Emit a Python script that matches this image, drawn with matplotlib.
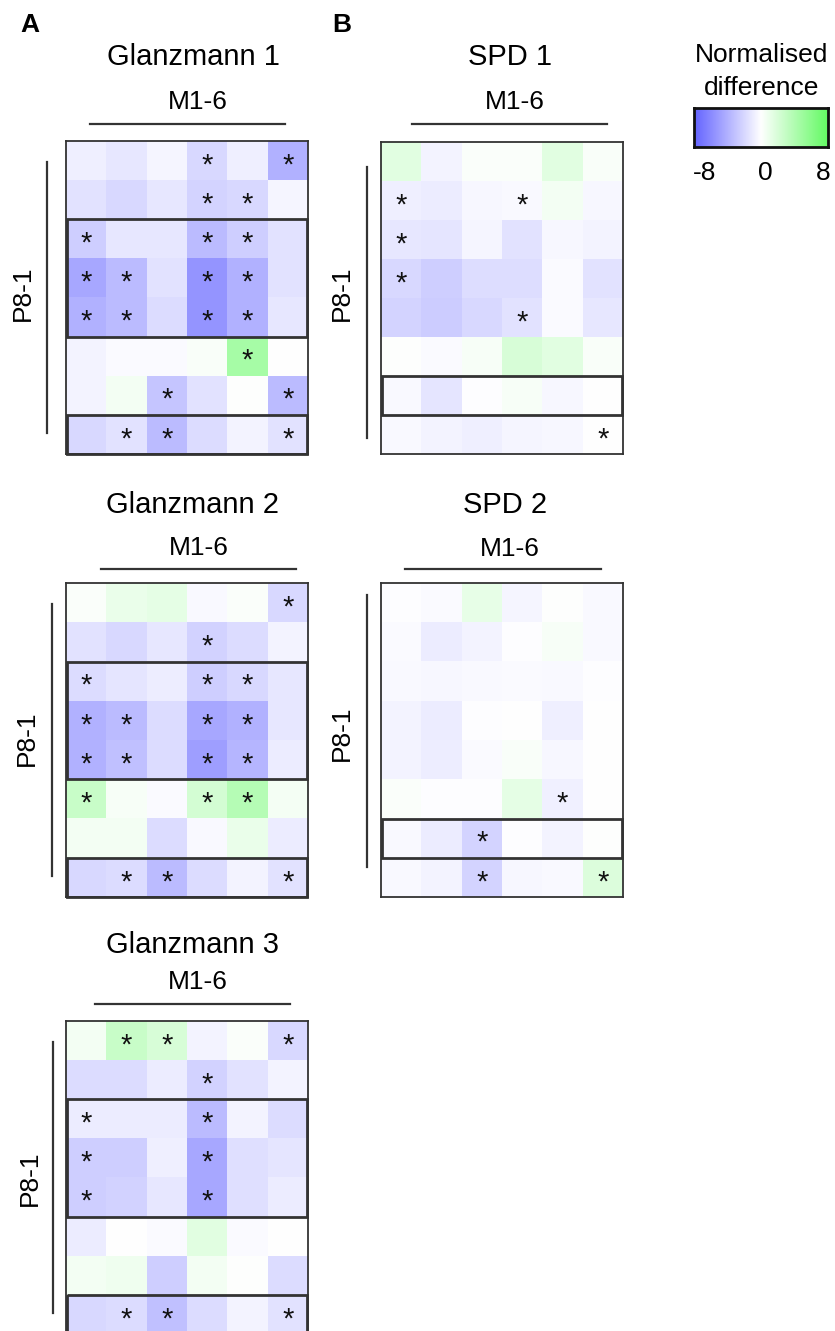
import numpy as np
import matplotlib
matplotlib.use("Agg")
import matplotlib.pyplot as plt
from matplotlib.colors import LinearSegmentedColormap
from matplotlib.patches import Rectangle

plt.rcParams['font.family'] = ['Liberation Sans', 'DejaVu Sans']

# heatmap values, rows P8..P1, columns M1..M6
glanz1 = [[-0.8, -1.2, -0.5, -2.0, -0.8, -4.0],
          [-1.5, -2.0, -1.2, -2.2, -2.0, -0.5],
          [-2.5, -1.2, -1.2, -3.5, -2.5, -1.5],
          [-4.5, -3.5, -1.5, -5.5, -4.0, -1.5],
          [-4.0, -3.5, -1.8, -5.5, -4.0, -1.2],
          [-0.6, -0.2, -0.2, 0.3, 4.5, 0.0],
          [-0.6, 0.6, -3.0, -1.5, 0.1, -3.5],
          [-2.0, -1.5, -3.5, -1.8, -0.6, -1.5]]
glanz1_sig = [(0, 3), (0, 5), (1, 3), (1, 4), (2, 0), (2, 3), (2, 4),
              (3, 0), (3, 1), (3, 3), (3, 4), (4, 0), (4, 1), (4, 3), (4, 4),
              (5, 4), (6, 2), (6, 5), (7, 1), (7, 2), (7, 5)]

glanz2 = [[0.2, 1.0, 1.3, -0.3, 0.2, -2.0],
          [-1.5, -2.0, -1.2, -2.3, -1.8, -0.6],
          [-1.8, -1.3, -0.9, -2.5, -2.0, -1.2],
          [-4.0, -3.5, -1.8, -4.5, -4.0, -1.2],
          [-4.0, -3.2, -1.8, -5.0, -3.8, -1.0],
          [2.8, 0.4, -0.2, 2.2, 3.8, 0.5],
          [0.6, 0.6, -1.8, -0.3, 1.0, -1.0],
          [-2.0, -1.8, -3.5, -1.8, -0.6, -1.5]]
glanz2_sig = [(0, 5), (1, 3), (2, 0), (2, 3), (2, 4),
              (3, 0), (3, 1), (3, 3), (3, 4), (4, 0), (4, 1), (4, 3), (4, 4),
              (5, 0), (5, 3), (5, 4), (7, 1), (7, 2), (7, 5)]

glanz3 = [[0.6, 2.8, 2.0, -0.6, 0.2, -2.0],
          [-1.8, -1.8, -1.0, -2.3, -1.5, -0.6],
          [-1.0, -1.0, -1.0, -3.5, -0.6, -1.8],
          [-2.5, -2.5, -0.8, -4.5, -1.6, -1.3],
          [-2.5, -2.3, -1.2, -4.5, -1.6, -1.0],
          [-1.0, 0.0, -0.2, 1.5, -0.2, 0.0],
          [0.6, 0.8, -2.5, 0.6, 0.1, -1.8],
          [-2.0, -1.8, -3.2, -1.8, -0.6, -1.5]]
glanz3_sig = [(0, 1), (0, 2), (0, 5), (1, 3), (2, 0), (2, 3),
              (3, 0), (3, 3), (4, 0), (4, 3), (7, 1), (7, 2), (7, 5)]

spd1 = [[1.5, -0.6, 0.2, 0.2, 1.5, 0.3],
        [-0.8, -1.0, -0.4, -0.3, 0.6, -0.4],
        [-1.2, -1.3, -0.5, -1.5, -0.4, -0.6],
        [-2.0, -2.5, -1.7, -1.7, -0.2, -1.5],
        [-2.2, -2.6, -2.0, -1.5, -0.2, -1.2],
        [0.1, -0.2, 0.4, 2.0, 1.5, 0.3],
        [-0.3, -1.3, -0.1, 0.4, -0.4, 0.0],
        [-0.3, -0.6, -0.8, -0.5, -0.4, 0.0]]
spd1_sig = [(1, 0), (1, 3), (2, 0), (3, 0), (4, 3), (7, 5)]

spd2 = [[-0.1, -0.2, 1.2, -0.5, 0.1, -0.3],
        [-0.2, -1.0, -0.6, -0.1, 0.4, -0.3],
        [-0.3, -0.4, -0.3, -0.2, -0.3, -0.1],
        [-0.6, -1.0, -0.1, 0.0, -0.8, 0.0],
        [-0.6, -0.9, -0.2, 0.3, -0.4, 0.0],
        [0.2, -0.1, -0.1, 1.3, -0.7, 0.0],
        [-0.3, -1.0, -2.2, -0.1, -0.6, 0.1],
        [-0.3, -0.6, -2.2, -0.4, -0.3, 1.8]]
spd2_sig = [(5, 4), (6, 2), (7, 2), (7, 5)]

# row groups outlined with a box (first row, last row)
glanz_boxes = [(2, 4), (7, 7)]
spd_boxes = [(6, 6)]

W, H = 835, 1331
fig = plt.figure(figsize=(W / 100, H / 100), dpi=100)

cmap = LinearSegmentedColormap.from_list(
    "bwg", [(0.0, (0.39, 0.39, 1.0)), (0.5, (1, 1, 1)),
            (1.0, (0.39, 0.98, 0.39))])
dark = "#333333"


def px_axes(x0, y0, x1, y1):
    return fig.add_axes([x0 / W, 1 - y1 / H, (x1 - x0) / W, (y1 - y0) / H])


# overlay in pixel coordinates for labels and bracket lines
ov = fig.add_axes([0, 0, 1, 1])
ov.set_xlim(0, W)
ov.set_ylim(H, 0)
ov.axis("off")
ov.set_zorder(5)
ov.patch.set_alpha(0)

panels = [
    ("Glanzmann 1", glanz1, glanz1_sig, glanz_boxes, (66, 141, 308, 454),
     (193, 57), (198, 102), (90, 285, 124), (47, 162, 433), (23, 293)),
    ("SPD 1", spd1, spd1_sig, spd_boxes, (381, 142, 623, 454),
     (510, 57), (515, 102), (412, 607, 124), (367, 167, 438), (342, 293)),
    ("Glanzmann 2", glanz2, glanz2_sig, glanz_boxes, (66, 583, 308, 897),
     (193, 505), (199, 548), (101, 296, 569), (52, 604, 876), (27, 738)),
    ("SPD 2", spd2, spd2_sig, spd_boxes, (381, 583, 623, 897),
     (505, 505), (510, 549), (405, 601, 569), (367, 595, 867), (342, 733)),
    ("Glanzmann 3", glanz3, glanz3_sig, glanz_boxes, (66, 1021, 308, 1334),
     (193, 945), (198, 982), (95, 290, 1004), (53, 1042, 1313), (30, 1178)),
]

for title, vals, sig, boxes, box, tpos, mpos, hl, vl, ppos in panels:
    ax = px_axes(*box)
    arr = np.array(vals)
    ax.imshow(arr, cmap=cmap, vmin=-8, vmax=8, aspect="auto",
              interpolation="nearest")
    ax.set_xticks([])
    ax.set_yticks([])
    for s in ax.spines.values():
        s.set_color(dark)
        s.set_linewidth(1.3)
    for r, c in sig:
        ax.text(c, r + 0.12, "*", ha="center", va="center", fontsize=21,
                color="#111111")
    for r0, r1 in boxes:
        ax.add_patch(Rectangle((-0.48, r0 - 0.5), 5.96, r1 - r0 + 1,
                               fill=False, ec=dark, lw=2.0, clip_on=False))
    ov.text(tpos[0], tpos[1], title, ha="center", va="center", fontsize=21)
    ov.text(mpos[0], mpos[1], "M1-6", ha="center", va="center", fontsize=19)
    ov.plot([hl[0], hl[1]], [hl[2], hl[2]], color=dark, lw=1.6)
    ov.plot([vl[0], vl[0]], [vl[1], vl[2]], color=dark, lw=1.6)
    ov.text(ppos[0], ppos[1], "P8-1", ha="center", va="center", fontsize=19,
            rotation=90)

ov.text(30, 25, "A", ha="center", va="center", fontsize=19, fontweight="bold")
ov.text(342, 25, "B", ha="center", va="center", fontsize=19, fontweight="bold")

# colour scale
cax = px_axes(694, 108, 828, 147)
grad = np.linspace(-8, 8, 256).reshape(1, -1)
cax.imshow(grad, cmap=cmap, vmin=-8, vmax=8, aspect="auto",
           extent=[-8, 8, 0, 1])
cax.set_xticks([])
cax.set_yticks([])
for s in cax.spines.values():
    s.set_color("#111111")
    s.set_linewidth(2.0)
ov.text(762, 55, "Normalised", ha="center", va="center", fontsize=19)
ov.text(762, 88, "difference", ha="center", va="center", fontsize=19)
for lab, x in zip(["-8", "0", "8"], [705, 765, 823]):
    ov.text(x, 173, lab, ha="center", va="center", fontsize=19)

fig.savefig("out.png", dpi=100)
